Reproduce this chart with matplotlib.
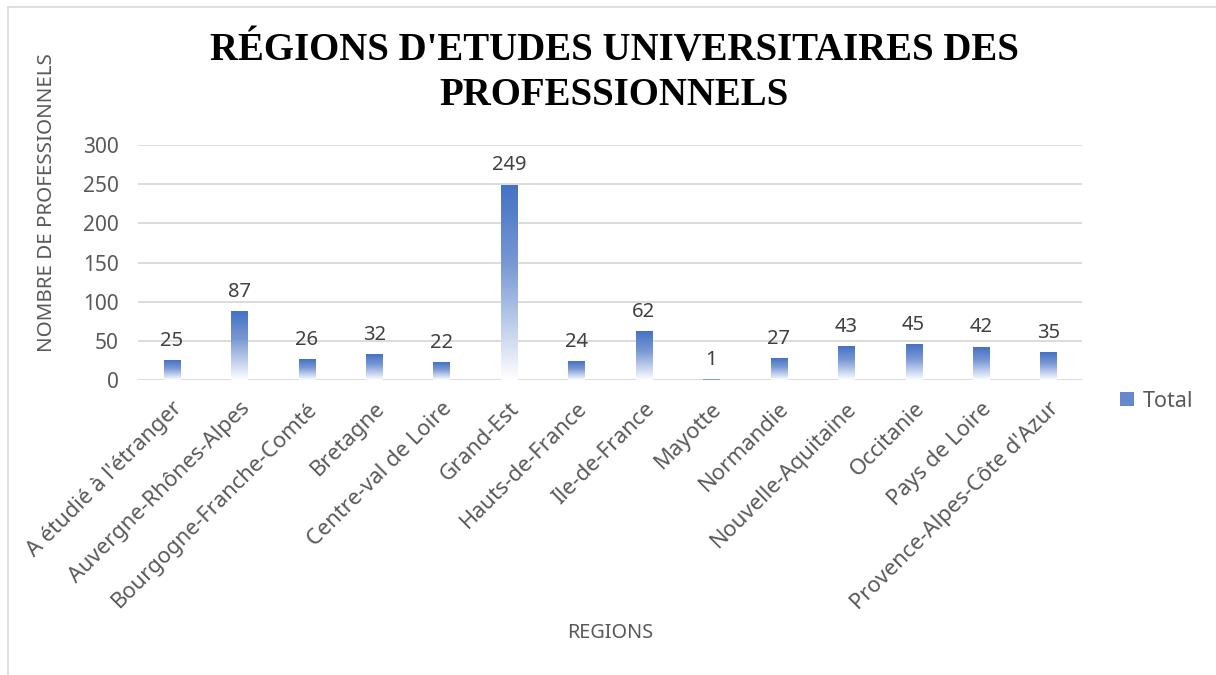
import matplotlib
matplotlib.use("Agg")
import matplotlib.pyplot as plt
from matplotlib.colors import LinearSegmentedColormap
from matplotlib.lines import Line2D
from matplotlib.patches import Patch
import numpy as np

regions = ["A étudié à l'étranger", "Auvergne-Rhônes-Alpes", "Bourgogne-Franche-Comté",
           "Bretagne", "Centre-val de Loire", "Grand-Est", "Hauts-de-France",
           "Ile-de-France", "Mayotte", "Normandie", "Nouvelle-Aquitaine",
           "Occitanie", "Pays de Loire", "Provence-Alpes-Côte d'Azur"]
totals = [25, 87, 26, 32, 22, 249, 24, 62, 1, 27, 43, 45, 42, 35]
yticks = [0, 50, 100, 150, 200, 250, 300]

font = "Noto Sans"
grey = "#595959"

fig = plt.figure(figsize=(12.16, 6.75), dpi=100)
ax = fig.add_axes([0.1135, 0.437, 0.7765, 0.348])

# gradient: solid blue at the top, white at the bottom of each bar
cmap = LinearSegmentedColormap.from_list(
    "fade", [(0, "#ffffff"), (0.25, "#c5d3ee"), (0.6, "#7897d3"), (1, "#4472c4")])
grad = np.linspace(0, 1, 256).reshape(-1, 1)

x = np.arange(len(regions))
width = 0.24
bars = ax.bar(x, totals, width, color="none", zorder=3)
for rect, v in zip(bars, totals):
    x0 = rect.get_x()
    ax.imshow(grad, cmap=cmap, origin="lower", aspect="auto",
              extent=(x0, x0 + width, 0, v), zorder=3, interpolation="bilinear")
    ax.annotate(str(v), xy=(rect.get_x() + width / 2, v), xytext=(0, 7),
                textcoords="offset points", ha="center", va="bottom",
                fontsize=14.5, color="#404040", family=font)

ax.set_xlim(-0.5, len(regions) - 0.5)
ax.set_ylim(0, 300)
ax.set_yticks(yticks)
ax.set_yticklabels([str(t) for t in yticks], family=font, fontsize=15, color=grey)
ax.set_xticks(x)
ax.set_xticklabels(regions, rotation=45, ha="right", va="top", rotation_mode="anchor",
                   family=font, fontsize=15.8, color=grey)
ax.tick_params(length=0)
ax.tick_params(axis="y", pad=14)
ax.tick_params(axis="x", pad=13)
ax.grid(axis="y", color="#d9d9d9", linewidth=1.3, zorder=0)
for s in ax.spines.values():
    s.set_visible(False)

fig.text(47 / 1216, 1 - 203 / 675, "NOMBRE DE PROFESSIONNELS", rotation=90,
         ha="center", va="center", family=font, fontsize=14.8, color=grey)
fig.text(610 / 1216, 1 - 633 / 675, "REGIONS", family=font, fontsize=14.3, color=grey,
         ha="center", va="center")

fig.text(0.505, 1 - 73 / 675, "RÉGIONS D'ETUDES UNIVERSITAIRES DES\nPROFESSIONNELS",
         ha="center", va="center", family="Liberation Serif", fontweight="bold",
         fontsize=28, linespacing=1.3)

leg = ax.legend(handles=[Patch(facecolor="#6488cc", label="Total")],
                loc="center left", bbox_to_anchor=(1.02, -0.09), frameon=False,
                prop={"family": font, "size": 15.5}, handlelength=0.65, handleheight=0.65,
                handletextpad=0.4)
for t in leg.get_texts():
    t.set_color(grey)

# light chart-area border
fig.add_artist(Line2D([8 / 1216, 8 / 1216], [0, 1 - 7 / 675], color="#d9d9d9", lw=1.2))
fig.add_artist(Line2D([8 / 1216, 1], [1 - 7 / 675, 1 - 7 / 675], color="#d9d9d9", lw=1.2))

fig.savefig("out.png", dpi=100)
